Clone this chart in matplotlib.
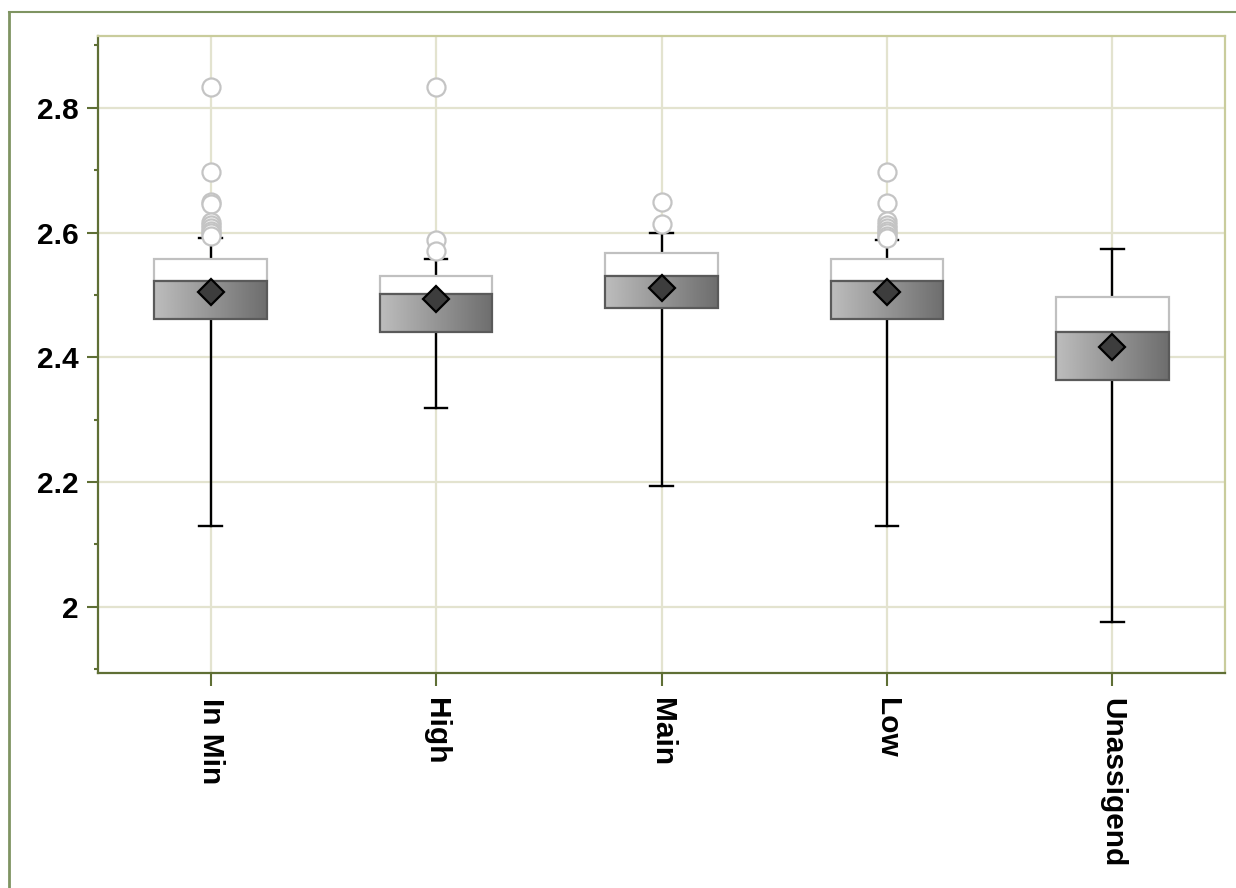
import numpy as np
import matplotlib
matplotlib.use("Agg")
import matplotlib.pyplot as plt
from matplotlib.patches import Rectangle
from matplotlib.lines import Line2D
import matplotlib.ticker as tick

# group summary statistics
groups = ['In Min', 'High', 'Main', 'Low', 'Unassigend']
q1 = [2.462, 2.440, 2.479, 2.462, 2.364]
med = [2.523, 2.501, 2.531, 2.523, 2.440]
q3 = [2.558, 2.530, 2.567, 2.558, 2.497]
means = [2.505, 2.493, 2.511, 2.505, 2.416]
whislo = [2.129, 2.319, 2.194, 2.129, 1.975]
whishi = [2.591, 2.558, 2.600, 2.588, 2.574]
fliers = [
    [2.833, 2.697, 2.649, 2.645, 2.617, 2.612, 2.607, 2.603, 2.599, 2.595],
    [2.833, 2.588, 2.571],
    [2.649, 2.614],
    [2.697, 2.647, 2.619, 2.612, 2.607, 2.603, 2.599, 2.595, 2.592],
    [],
]

olive = '#5f6f35'
light_olive = '#c9cc9c'
grid_col = '#e3e3cf'

plt.rcParams['font.family'] = ['Liberation Sans', 'DejaVu Sans']

fig = plt.figure(figsize=(12.36, 8.88), dpi=100)
ax = fig.add_axes([98/1236, 1-673/888, (1225-98)/1236, (673-36)/888])

# outer frame lines (left and top)
fig.add_artist(Line2D([9/1236, 9/1236], [0, 1-12/888], transform=fig.transFigure,
                      color='#7f9462', lw=2))
fig.add_artist(Line2D([9/1236, 1], [1-12/888, 1-12/888], transform=fig.transFigure,
                      color='#7f9462', lw=1.5))

pos = np.arange(len(groups))
stats = []
for i in range(len(groups)):
    stats.append(dict(med=med[i], q1=q1[i], q3=q3[i], mean=means[i],
                      whislo=whislo[i], whishi=whishi[i], fliers=fliers[i]))

ax.bxp(stats, positions=pos, showbox=False, showmeans=True, showcaps=True,
       capwidths=0.1, widths=0.5,
       whiskerprops=dict(color='black', lw=1.7, zorder=2),
       capprops=dict(color='black', lw=1.7, zorder=2),
       medianprops=dict(visible=False),
       meanprops=dict(marker='D', markersize=13, markerfacecolor='#3d3d3d',
                      markeredgecolor='black', markeredgewidth=1.6, zorder=6),
       flierprops=dict(marker='o', markersize=13, markerfacecolor='white',
                       markeredgecolor='#c4c4c4', markeredgewidth=1.6, zorder=3))

w = 0.5
grad = np.linspace(0.74, 0.43, 256).reshape(1, -1)
for i, x in enumerate(pos):
    # upper half of the box
    ax.add_patch(Rectangle((x - w/2, med[i]), w, q3[i] - med[i], facecolor='white',
                           edgecolor='#c0c0c0', lw=1.6, zorder=4))
    # lower half with horizontal shading
    ax.imshow(grad, cmap='gray', vmin=0, vmax=1, aspect='auto', zorder=4,
              extent=(x - w/2, x + w/2, q1[i], med[i]), interpolation='bilinear')
    ax.add_patch(Rectangle((x - w/2, q1[i]), w, med[i] - q1[i], facecolor='none',
                           edgecolor='#5a5a5a', lw=1.6, zorder=5))

ax.set_xlim(-0.5, 4.5)
ax.set_ylim(1.894, 2.915)
ax.set_xticks(pos)
ax.set_xticklabels(groups, rotation=-90, fontsize=21.5, fontweight='bold', va='top')
ax.yaxis.set_major_locator(tick.FixedLocator([2.0, 2.2, 2.4, 2.6, 2.8]))
ax.yaxis.set_minor_locator(tick.MultipleLocator(0.1))
ax.yaxis.set_major_formatter(tick.FuncFormatter(lambda v, p: '%g' % round(v, 1)))
for lab in ax.get_yticklabels():
    lab.set_fontsize(21.5)
    lab.set_fontweight('bold')

ax.tick_params(axis='y', which='major', length=8, width=1.5, color=olive, pad=6)
ax.tick_params(axis='y', which='minor', length=3, width=1.5, color=olive)
ax.tick_params(axis='x', which='major', length=9, width=1.5, color=olive, pad=9)

ax.grid(True, which='major', color=grid_col, lw=1.6, zorder=0)
ax.set_axisbelow(True)

for side in ['left', 'bottom']:
    ax.spines[side].set_color(olive)
    ax.spines[side].set_linewidth(1.6)
for side in ['top', 'right']:
    ax.spines[side].set_color(light_olive)
    ax.spines[side].set_linewidth(1.6)

plt.savefig('out.png', dpi=100)
